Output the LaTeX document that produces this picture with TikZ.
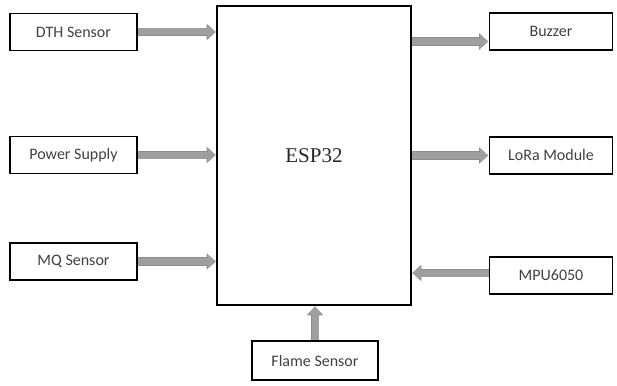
\documentclass[tikz,border=0pt]{standalone}
\usepackage{fontspec}
\setmainfont{Carlito}
\usetikzlibrary{arrows.meta}
\begin{document}
\begin{tikzpicture}[
  x=1pt, y=-1pt,
  part/.style={rectangle, draw, line width=1.5pt, minimum height=37pt, inner sep=0pt,
    font=\fontsize{16}{19}\selectfont, text=black!75},
  blockarrow/.style={draw=gray!75, line width=7pt,
    -{Triangle[length=8pt,width=14pt]},
    preaction={draw=gray!110!black, line width=8.4pt, -{Triangle[length=9pt,width=15.6pt]}},
    shorten >=0.6pt}
]
  \useasboundingbox (0,0) rectangle (617,385);
  % controller
  \node[draw, line width=1.5pt, minimum width=194pt, minimum height=299pt,
    font=\fontsize{21}{24}\selectfont, text=black!85] (esp) at (314,155.5)
    {\fontspec{Liberation Serif}ESP32};
  % inputs
  \node[part, minimum width=127pt] (dth) at (73.5,32) {DTH Sensor};
  \node[part, minimum width=127pt] (pwr) at (73.5,155) {Power Supply};
  \node[part, minimum width=127pt] (mq) at (73.5,261.5) {MQ Sensor};
  \node[part, minimum width=126pt, minimum height=39pt] (flame) at (315,360.5) {Flame Sensor};
  % outputs
  \node[part, minimum width=123pt] (buzz) at (551,31.5) {Buzzer};
  \node[part, minimum width=123pt] (lora) at (551,155.5) {LoRa Module};
  \node[part, minimum width=123pt] (mpu) at (551,275.5) {MPU6050};
  % connections
  \draw[blockarrow] (dth.east) -- (dth.east -| esp.west);
  \draw[blockarrow] (pwr.east) -- (pwr.east -| esp.west);
  \draw[blockarrow] (mq.east) -- (mq.east -| esp.west);
  \draw[blockarrow] (flame.north) -- (flame.north |- esp.south);
  \draw[blockarrow] ([yshift=-10pt]esp.east |- buzz.west) -- ([yshift=-10pt]buzz.west);
  \draw[blockarrow] (esp.east |- lora.west) -- (lora.west);
  \draw[blockarrow] ([yshift=2.5pt]mpu.west) -- ([yshift=2.5pt]esp.east |- mpu.west);
\end{tikzpicture}
\end{document}
